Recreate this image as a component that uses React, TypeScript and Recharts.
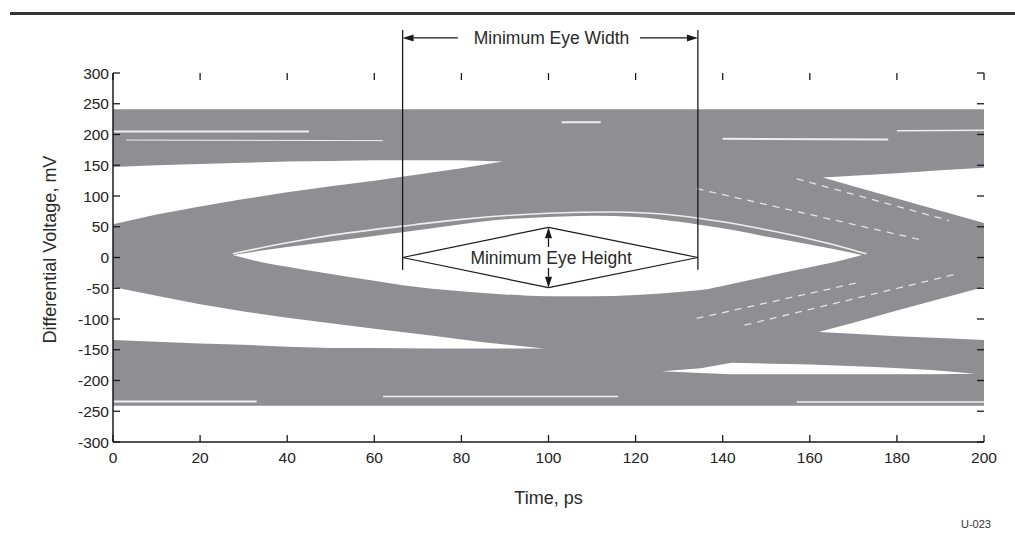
import React from 'react';
import { ComposedChart, Area, Line, XAxis, YAxis, ReferenceLine, ReferenceDot } from 'recharts';

type Pt = { t: number; v: number };
type RangePt = { t: number; v: [number, number] };

const timeTicks = [0, 20, 40, 60, 80, 100, 120, 140, 160, 180, 200];
const voltTicks = [-300, -250, -200, -150, -100, -50, 0, 50, 100, 150, 200, 250, 300];
const timeDomain: [number, number] = [0, 200];
const voltDomain: [number, number] = [-300, 300];

// full envelope of all traces
const traceEnvelope: RangePt[] = [
  { t: 0, v: [-241, 241] },
  { t: 200, v: [-241, 241] },
];

// white openings between trace bundles
const upperLeftGap: RangePt[] = [
  { t: 0, v: [54, 147] }, { t: 10, v: [70, 150] }, { t: 20, v: [83, 152] }, { t: 30, v: [95, 154] },
  { t: 40, v: [106, 156] }, { t: 50, v: [116, 157] }, { t: 60, v: [125, 158] }, { t: 70, v: [135, 158] },
  { t: 80, v: [145, 158] }, { t: 89.5, v: [156, 156] },
];
const eyeOpening: RangePt[] = [
  { t: 27.5, v: [4, 4] }, { t: 35, v: [-9, 12] }, { t: 40, v: [-15, 17] }, { t: 50, v: [-27, 26] },
  { t: 60, v: [-38, 35] }, { t: 66.5, v: [-45, 41] }, { t: 80, v: [-55, 54] }, { t: 90, v: [-60, 62] },
  { t: 100, v: [-63, 66] }, { t: 110, v: [-63, 68] }, { t: 120, v: [-61, 66] }, { t: 130, v: [-56, 58] },
  { t: 135, v: [-53, 53] }, { t: 142, v: [-43, 45] }, { t: 150, v: [-31, 34] }, { t: 160, v: [-16, 21] },
  { t: 166, v: [-7, 13] }, { t: 172, v: [4, 4] },
];
const lowerLeftGap: RangePt[] = [
  { t: 0, v: [-134, -48] }, { t: 10, v: [-137, -62] }, { t: 20, v: [-140, -76] }, { t: 30, v: [-142, -88] },
  { t: 40, v: [-145, -98] }, { t: 50, v: [-147, -107] }, { t: 60, v: [-147, -116] }, { t: 73, v: [-148, -127] },
  { t: 85, v: [-148, -138] }, { t: 99, v: [-148, -148] },
];
const upperRightGap: RangePt[] = [
  { t: 163, v: [130, 130] }, { t: 170, v: [116, 133] }, { t: 180, v: [96, 137] },
  { t: 190, v: [76, 142] }, { t: 200, v: [56, 146] },
];
const lowerRightGap: RangePt[] = [
  { t: 162, v: [-121, -121] }, { t: 170, v: [-124, -106] }, { t: 180, v: [-128, -86] },
  { t: 190, v: [-131, -67] }, { t: 200, v: [-134, -48] },
];
const lowerRightSliver: RangePt[] = [
  { t: 126, v: [-185, -185] }, { t: 135, v: [-188, -180] }, { t: 142, v: [-190, -171] },
  { t: 160, v: [-190, -174] }, { t: 175, v: [-190, -178] }, { t: 188, v: [-190, -183] },
  { t: 198, v: [-189, -189] },
];

// bright single-trace streaks
const eyeInnerTrace: Pt[] = [
  { t: 27.5, v: 6 }, { t: 40, v: 24 }, { t: 50, v: 36 }, { t: 66.5, v: 51 }, { t: 80, v: 62 },
  { t: 100, v: 72 }, { t: 115, v: 74 }, { t: 130, v: 68 }, { t: 140, v: 58 }, { t: 150, v: 45 },
  { t: 160, v: 30 }, { t: 168, v: 16 }, { t: 173, v: 6 },
];
const streakTopLeft: Pt[] = [{ t: 0, v: 205 }, { t: 45, v: 205 }];
const streakTopLeft2: Pt[] = [{ t: 3, v: 191 }, { t: 62, v: 190 }];
const streakTopRight: Pt[] = [{ t: 140, v: 193 }, { t: 178, v: 192 }];
const streakTopRight2: Pt[] = [{ t: 180, v: 206 }, { t: 200, v: 207 }];
const streakTopMid: Pt[] = [{ t: 103, v: 220 }, { t: 112, v: 220 }];
const streakBottomLeft: Pt[] = [{ t: 0, v: -234 }, { t: 33, v: -234 }];
const streakBottomMid: Pt[] = [{ t: 62, v: -226 }, { t: 116, v: -226 }];
const streakBottomRight: Pt[] = [{ t: 157, v: -235 }, { t: 200, v: -235 }];
const fallDash1: Pt[] = [{ t: 134, v: 112 }, { t: 186, v: 28 }];
const fallDash2: Pt[] = [{ t: 157, v: 128 }, { t: 192, v: 60 }];
const riseDash1: Pt[] = [{ t: 134, v: -99 }, { t: 171, v: -41 }];
const riseDash2: Pt[] = [{ t: 145, v: -110 }, { t: 193, v: -28 }];

// annotation anchors (data units)
const eyeLeftT = 66.5;
const eyeRightT = 134.3;
const eyeCenterT = 100;
const eyeTopV = 49;
const eyeBottomV = -49;
const markerTopV = 370;
const markerBottomV = -20;
const widthArrowV = 357;

const GRAY = '#8f8f93';
const INK = '#1a1a1a';
const FONT = "'Liberation Sans', Arial, Helvetica, sans-serif";
const TICK_LEN = 7;

const ArrowShape = (props: any) => {
  const { x1, y1, x2, y2 } = props;
  const dx = x2 - x1;
  const dy = y2 - y1;
  const len = Math.hypot(dx, dy) || 1;
  const ux = dx / len;
  const uy = dy / len;
  const L = 11;
  const W = 3.5;
  const bx = x2 - ux * L;
  const by = y2 - uy * L;
  const pts = `${x2},${y2} ${bx - uy * W},${by + ux * W} ${bx + uy * W},${by - ux * W}`;
  return (
    <g>
      <line x1={x1} y1={y1} x2={bx} y2={by} stroke={INK} strokeWidth={1.3} />
      <polygon points={pts} fill={INK} />
    </g>
  );
};

const TextShape = (label: string) => (props: any) => (
  <text
    x={props.cx}
    y={props.cy}
    textAnchor="middle"
    dominantBaseline="central"
    fontSize={17.5}
    fill="#2a2a2a"
    fontFamily={FONT}
  >
    {label}
  </text>
);

// inward tick mark drawn from an axis point
const TickMark = (dx: number, dy: number) => (props: any) => (
  <line
    x1={props.cx}
    y1={props.cy}
    x2={props.cx + dx}
    y2={props.cy + dy}
    stroke={INK}
    strokeWidth={1.3}
  />
);

const tickStyle = { fontSize: 15.5, fill: '#222', fontFamily: FONT };
const lineStyle = { stroke: INK, strokeWidth: 1.5 };

export default function App() {
  const holes = [upperLeftGap, eyeOpening, lowerLeftGap, upperRightGap, lowerRightGap, lowerRightSliver];
  const solidStreaks: [Pt[], number][] = [
    [eyeInnerTrace, 1.6],
    [streakTopLeft, 2],
    [streakTopLeft2, 1],
    [streakTopRight, 2],
    [streakTopRight2, 1.5],
    [streakTopMid, 2],
    [streakBottomLeft, 2],
    [streakBottomMid, 1.5],
    [streakBottomRight, 1.5],
  ];
  const dashStreaks = [fallDash1, fallDash2, riseDash1, riseDash2];
  const common = { xAxisId: 'b', yAxisId: 'l' } as const;

  const bottomTick = TickMark(0, -TICK_LEN);
  const topTick = TickMark(0, TICK_LEN);
  const leftTick = TickMark(TICK_LEN, 0);
  const rightTick = TickMark(-TICK_LEN, 0);

  return (
    <div style={{ position: 'absolute', left: 0, top: 0, width: 1015, height: 546, background: '#fff', fontFamily: FONT }}>
      <div style={{ position: 'absolute', left: 10, top: 12, width: 1005, height: 3, background: '#333' }} />
      <ComposedChart width={1015} height={546} margin={{ top: 73, right: 31, bottom: 74, left: 43 }}>
        <XAxis
          xAxisId="b"
          dataKey="t"
          type="number"
          domain={timeDomain}
          ticks={timeTicks}
          allowDataOverflow
          height={30}
          tickSize={0}
          tickMargin={10}
          tick={tickStyle}
          axisLine={lineStyle}
          tickLine={false}
          label={{ value: 'Time, ps', position: 'bottom', offset: 19, fontSize: 18, fill: '#2a2a2a' }}
        />
        <XAxis
          xAxisId="t"
          dataKey="t"
          orientation="top"
          type="number"
          domain={timeDomain}
          ticks={timeTicks}
          allowDataOverflow
          height={0}
          tick={false}
          tickLine={false}
          axisLine={lineStyle}
        />
        <YAxis
          yAxisId="l"
          type="number"
          domain={voltDomain}
          ticks={voltTicks}
          allowDataOverflow
          width={70}
          tickSize={0}
          tickMargin={4}
          tick={tickStyle}
          axisLine={lineStyle}
          tickLine={false}
          label={{
            value: 'Differential Voltage, mV',
            angle: -90,
            position: 'insideLeft',
            offset: 7,
            dy: -8,
            fontSize: 18,
            fill: '#2a2a2a',
            style: { textAnchor: 'middle' },
          }}
        />
        <YAxis
          yAxisId="r"
          orientation="right"
          type="number"
          domain={voltDomain}
          ticks={voltTicks}
          allowDataOverflow
          width={0}
          tick={false}
          tickLine={false}
          axisLine={lineStyle}
        />

        <Area
          {...common}
          data={traceEnvelope}
          dataKey="v"
          type="linear"
          fill={GRAY}
          fillOpacity={1}
          stroke="none"
          isAnimationActive={false}
        />
        {holes.map((h, i) => (
          <Area
            key={`hole-${i}`}
            {...common}
            data={h}
            dataKey="v"
            type={i === 1 ? 'monotone' : 'linear'}
            fill="#fff"
            fillOpacity={1}
            stroke="none"
            isAnimationActive={false}
          />
        ))}
        {solidStreaks.map(([s, w], i) => (
          <Line
            key={`streak-${i}`}
            {...common}
            data={s}
            dataKey="v"
            type={i === 0 ? 'monotone' : 'linear'}
            stroke="#ffffff"
            strokeOpacity={0.85}
            strokeWidth={w}
            dot={false}
            activeDot={false}
            isAnimationActive={false}
          />
        ))}
        {dashStreaks.map((s, i) => (
          <Line
            key={`dash-${i}`}
            {...common}
            data={s}
            dataKey="v"
            type="linear"
            stroke="#ffffff"
            strokeOpacity={0.75}
            strokeWidth={1.3}
            strokeDasharray="7 6"
            dot={false}
            activeDot={false}
            isAnimationActive={false}
          />
        ))}

        {/* inward tick marks on all four sides */}
        {timeTicks.map((t) => (
          <ReferenceDot key={`tb-${t}`} {...common} ifOverflow="visible" x={t} y={voltDomain[0]} r={1} shape={bottomTick} />
        ))}
        {timeTicks.map((t) => (
          <ReferenceDot key={`tt-${t}`} {...common} ifOverflow="visible" x={t} y={voltDomain[1]} r={1} shape={topTick} />
        ))}
        {voltTicks.map((v) => (
          <ReferenceDot key={`tl-${v}`} {...common} ifOverflow="visible" x={timeDomain[0]} y={v} r={1} shape={leftTick} />
        ))}
        {voltTicks.map((v) => (
          <ReferenceDot key={`tr-${v}`} {...common} ifOverflow="visible" x={timeDomain[1]} y={v} r={1} shape={rightTick} />
        ))}

        {/* eye width markers */}
        <ReferenceLine
          {...common}
          ifOverflow="visible"
          segment={[{ x: eyeLeftT, y: markerBottomV }, { x: eyeLeftT, y: markerTopV }]}
          stroke={INK}
          strokeWidth={1.3}
        />
        <ReferenceLine
          {...common}
          ifOverflow="visible"
          segment={[{ x: eyeRightT, y: markerBottomV }, { x: eyeRightT, y: markerTopV }]}
          stroke={INK}
          strokeWidth={1.3}
        />
        <ReferenceLine
          {...common}
          ifOverflow="visible"
          segment={[{ x: 79.2, y: widthArrowV }, { x: eyeLeftT, y: widthArrowV }]}
          shape={ArrowShape}
        />
        <ReferenceLine
          {...common}
          ifOverflow="visible"
          segment={[{ x: 121, y: widthArrowV }, { x: eyeRightT, y: widthArrowV }]}
          shape={ArrowShape}
        />
        <ReferenceDot
          {...common}
          ifOverflow="visible"
          x={100.7}
          y={widthArrowV}
          r={1}
          shape={TextShape('Minimum Eye Width')}
        />

        {/* eye height diamond */}
        <ReferenceLine {...common} ifOverflow="visible" segment={[{ x: eyeLeftT, y: 0 }, { x: eyeCenterT, y: eyeTopV }]} stroke={INK} strokeWidth={1.2} />
        <ReferenceLine {...common} ifOverflow="visible" segment={[{ x: eyeCenterT, y: eyeTopV }, { x: eyeRightT, y: 0 }]} stroke={INK} strokeWidth={1.2} />
        <ReferenceLine {...common} ifOverflow="visible" segment={[{ x: eyeRightT, y: 0 }, { x: eyeCenterT, y: eyeBottomV }]} stroke={INK} strokeWidth={1.2} />
        <ReferenceLine {...common} ifOverflow="visible" segment={[{ x: eyeCenterT, y: eyeBottomV }, { x: eyeLeftT, y: 0 }]} stroke={INK} strokeWidth={1.2} />
        <ReferenceLine
          {...common}
          ifOverflow="visible"
          segment={[{ x: eyeCenterT, y: 17 }, { x: eyeCenterT, y: eyeTopV }]}
          shape={ArrowShape}
        />
        <ReferenceLine
          {...common}
          ifOverflow="visible"
          segment={[{ x: eyeCenterT, y: -17 }, { x: eyeCenterT, y: eyeBottomV }]}
          shape={ArrowShape}
        />
        <ReferenceDot
          {...common}
          ifOverflow="visible"
          x={100.6}
          y={0}
          r={1}
          shape={TextShape('Minimum Eye Height')}
        />
      </ComposedChart>
      <div style={{ position: 'absolute', left: 961, top: 518, fontSize: 11, color: '#333', fontFamily: FONT }}>U-023</div>
    </div>
  );
}
